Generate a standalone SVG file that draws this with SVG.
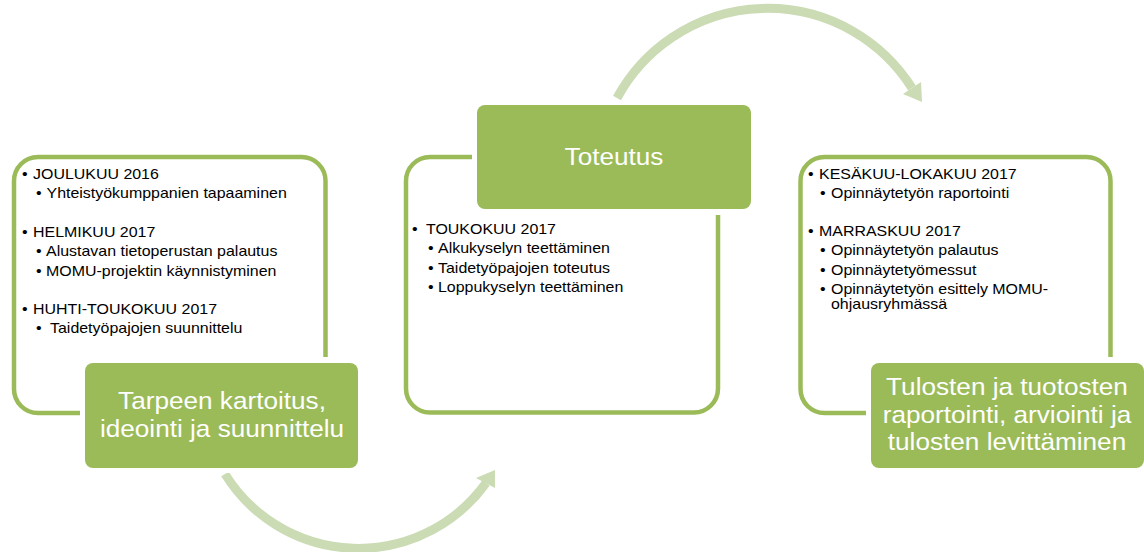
<svg xmlns="http://www.w3.org/2000/svg" width="1144" height="552" viewBox="0 0 1144 552">
  <style>
    .frame { fill: none; stroke: #9BBB59; stroke-width: 4.5; }
    .gap { fill: #FFFFFF; }
    .label { fill: #9BBB59; }
    .big { font-family: "Liberation Sans", Arial, sans-serif; font-size: 24px; fill: #FFFFFF; text-anchor: middle; }
    .item { font-family: "Liberation Sans", Arial, sans-serif; font-size: 14px; fill: #000000; }
    .arc { fill: none; stroke: #CBDBB4; stroke-width: 9; }
    .head { fill: #CBDBB4; }
  </style>
  <rect width="1144" height="552" fill="#FFFFFF"/>

  <g id="connectors">
    <path class="arc" d="M 225 474 A 157 157 0 0 0 486 483"/>
    <polygon class="head" points="476,478 495,470 495,488"/>
    <path class="arc" d="M 617 98 A 171 171 0 0 1 912 88"/>
    <polygon class="head" points="903,94 921,82 922,102"/>
  </g>

  <g id="node-planning">
    <rect class="frame" x="14" y="157" width="311.5" height="256" rx="24"/>
    <rect class="gap" x="80" y="357" width="283" height="116" rx="10"/>
    <rect class="label" x="85" y="363" width="273" height="105" rx="8"/>
    <text class="big" transform="translate(222 409) scale(1.09 1)">Tarpeen kartoitus,</text>
    <text class="big" transform="translate(222 437) scale(1.09 1)">ideointi ja suunnittelu</text>
    <text class="item" transform="translate(22 179) scale(1.14 1)">•</text>
    <text class="item" transform="translate(33 179) scale(1.14 1)">JOULUKUU 2016</text>
    <text class="item" transform="translate(36 197.5) scale(1.14 1)">•</text>
    <text class="item" transform="translate(46.5 197.5) scale(1.14 1)">Yhteistyökumppanien tapaaminen</text>
    <text class="item" transform="translate(22 237) scale(1.14 1)">•</text>
    <text class="item" transform="translate(33 237) scale(1.14 1)">HELMIKUU 2017</text>
    <text class="item" transform="translate(36 256) scale(1.14 1)">•</text>
    <text class="item" transform="translate(46 256) scale(1.14 1)">Alustavan tietoperustan palautus</text>
    <text class="item" transform="translate(36 275.5) scale(1.14 1)">•</text>
    <text class="item" transform="translate(46 275.5) scale(1.14 1)">MOMU-projektin käynnistyminen</text>
    <text class="item" transform="translate(22 314) scale(1.14 1)">•</text>
    <text class="item" transform="translate(33 314) scale(1.14 1)">HUHTI-TOUKOKUU 2017</text>
    <text class="item" transform="translate(36 333) scale(1.14 1)">•</text>
    <text class="item" transform="translate(50 333) scale(1.14 1)">Taidetyöpajojen suunnittelu</text>
  </g>

  <g id="node-implementation">
    <rect class="frame" x="406" y="157" width="312" height="255.5" rx="24"/>
    <rect class="gap" x="472" y="100" width="284" height="115" rx="10"/>
    <rect class="label" x="477" y="105" width="274" height="104" rx="8"/>
    <text class="big" transform="translate(614 165) scale(1.09 1)">Toteutus</text>
    <text class="item" transform="translate(412 234) scale(1.14 1)">•</text>
    <text class="item" transform="translate(426 234) scale(1.14 1)">TOUKOKUU 2017</text>
    <text class="item" transform="translate(428 253) scale(1.14 1)">•</text>
    <text class="item" transform="translate(438 253) scale(1.14 1)">Alkukyselyn teettäminen</text>
    <text class="item" transform="translate(428 272.5) scale(1.14 1)">•</text>
    <text class="item" transform="translate(438 272.5) scale(1.14 1)">Taidetyöpajojen toteutus</text>
    <text class="item" transform="translate(428 292) scale(1.14 1)">•</text>
    <text class="item" transform="translate(438 292) scale(1.14 1)">Loppukyselyn teettäminen</text>
  </g>

  <g id="node-reporting">
    <rect class="frame" x="800.5" y="157" width="310" height="256" rx="24"/>
    <rect class="gap" x="866" y="357" width="283" height="116" rx="10"/>
    <rect class="label" x="871" y="363" width="273" height="105" rx="8"/>
    <text class="big" transform="translate(1007 395) scale(1.09 1)">Tulosten ja tuotosten</text>
    <text class="big" transform="translate(1007 423) scale(1.09 1)">raportointi, arviointi ja</text>
    <text class="big" transform="translate(1007 450) scale(1.09 1)">tulosten levittäminen</text>
    <text class="item" transform="translate(808 178.5) scale(1.14 1)">•</text>
    <text class="item" transform="translate(819 178.5) scale(1.14 1)">KESÄKUU-LOKAKUU 2017</text>
    <text class="item" transform="translate(820 197.5) scale(1.14 1)">•</text>
    <text class="item" transform="translate(831 197.5) scale(1.14 1)">Opinnäytetyön raportointi</text>
    <text class="item" transform="translate(808 236) scale(1.14 1)">•</text>
    <text class="item" transform="translate(819 236) scale(1.14 1)">MARRASKUU 2017</text>
    <text class="item" transform="translate(820 255) scale(1.14 1)">•</text>
    <text class="item" transform="translate(831 255) scale(1.14 1)">Opinnäytetyön palautus</text>
    <text class="item" transform="translate(820 275) scale(1.14 1)">•</text>
    <text class="item" transform="translate(831 275) scale(1.14 1)">Opinnäytetyömessut</text>
    <text class="item" transform="translate(820 293.5) scale(1.14 1)">•</text>
    <text class="item" transform="translate(831 293.5) scale(1.14 1)">Opinnäytetyön esittely MOMU-</text>
    <text class="item" transform="translate(831 309) scale(1.14 1)">ohjausryhmässä</text>
  </g>
</svg>
